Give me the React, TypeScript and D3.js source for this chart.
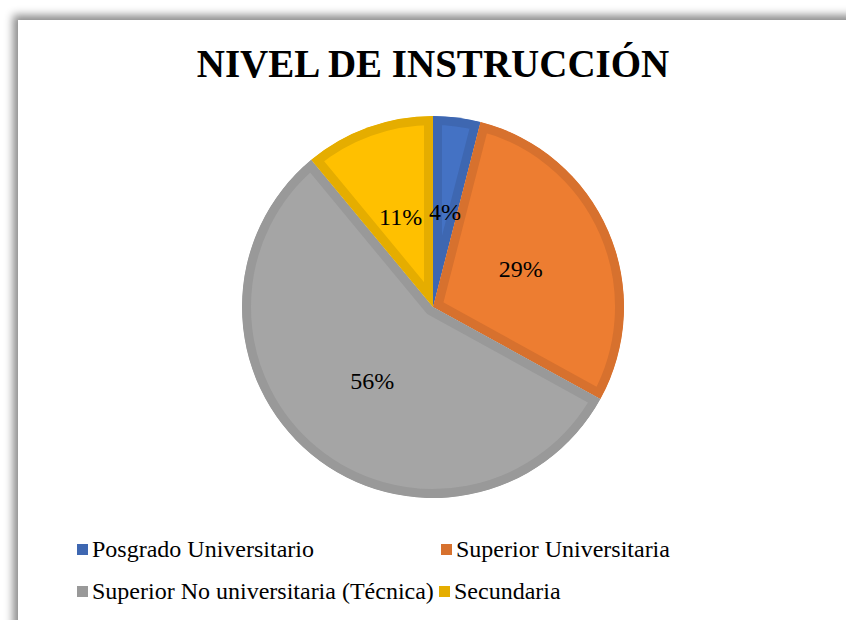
import * as d3 from "d3";
import React, { useEffect, useRef } from "react";

// chart data
const categories = [
  "Posgrado Universitario",
  "Superior Universitaria",
  "Superior No universitaria (Técnica)",
  "Secundaria",
];
const values = [4, 29, 56, 11];
const fills = ["#4472C4", "#ED7D31", "#A5A5A5", "#FFC000"];
const borders = ["#3E67B1", "#D7712E", "#999999", "#E5AD00"];

const width = 846;
const height = 620;
const cx = 433;
const cy = 307;
const serif = "Liberation Serif, Tinos, DejaVu Serif, serif";

const App: React.FC = () => {
  const ref = useRef<SVGSVGElement | null>(null);

  useEffect(() => {
    const svg = d3.select(ref.current);
    svg.selectAll("*").remove();

    const defs = svg.append("defs");
    const shadow = defs
      .append("filter")
      .attr("id", "frameShadow")
      .attr("x", "-10%")
      .attr("y", "-10%")
      .attr("width", "130%")
      .attr("height", "130%");
    shadow
      .append("feDropShadow")
      .attr("dx", -5)
      .attr("dy", -5)
      .attr("stdDeviation", 4)
      .attr("flood-color", "#000")
      .attr("flood-opacity", 0.45);

    svg.append("rect").attr("width", width).attr("height", height).attr("fill", "#fff");

    // chart frame
    svg
      .append("rect")
      .attr("x", 18)
      .attr("y", 20)
      .attr("width", 900)
      .attr("height", 700)
      .attr("fill", "#fff")
      .attr("filter", "url(#frameShadow)");

    svg
      .append("text")
      .text("NIVEL DE INSTRUCCIÓN")
      .attr("x", cx)
      .attr("y", 77)
      .attr("text-anchor", "middle")
      .style("font-family", serif)
      .attr("font-weight", "bold")
      .attr("font-size", "39px")
      .attr("fill", "#000");

    const radius = 191;
    const g = svg.append("g").attr("transform", `translate(${cx},${cy})`);

    const pie = d3.pie<number>().sort(null).value((d) => d);
    const arcs = pie(values);
    const arc = d3.arc<d3.PieArcDatum<number>>().innerRadius(0).outerRadius(radius);

    // clip each slice to itself so the border only shows on the inside
    arcs.forEach((a, i) => {
      defs
        .append("clipPath")
        .attr("id", "slice" + i)
        .append("path")
        .attr("d", arc(a) as string);
    });

    g.selectAll("path.slice")
      .data(arcs)
      .enter()
      .append("path")
      .attr("class", "slice")
      .attr("d", (d) => arc(d) as string)
      .attr("fill", (d, i) => fills[i])
      .attr("stroke", (d, i) => borders[i])
      .attr("stroke-width", 18)
      .attr("clip-path", (d, i) => `url(#slice${i})`);

    g.selectAll("text.lbl")
      .data(arcs)
      .enter()
      .append("text")
      .attr("class", "lbl")
      .attr("x", (d) => arc.centroid(d)[0])
      .attr("y", (d) => arc.centroid(d)[1] + 8)
      .attr("text-anchor", "middle")
      .style("font-family", serif)
      .attr("font-size", "24px")
      .attr("fill", "#000")
      .text((d) => d.data + "%");

    // legend
    const legendPos = [
      [77, 557],
      [441, 557],
      [77, 599],
      [439, 599],
    ];
    const legend = svg.append("g");
    categories.forEach((c, i) => {
      const [lx, ly] = legendPos[i];
      legend
        .append("rect")
        .attr("x", lx)
        .attr("y", ly - 13)
        .attr("width", 11)
        .attr("height", 11)
        .attr("fill", borders[i]);
      legend
        .append("text")
        .attr("x", lx + 15)
        .attr("y", ly)
        .style("font-family", serif)
        .attr("font-size", "24px")
        .attr("fill", "#000")
        .text(c);
    });
  }, []);

  return (
    <svg
      ref={ref}
      width={width}
      height={height}
      style={{ position: "absolute", left: 0, top: 0 }}
    />
  );
};

export default App;
